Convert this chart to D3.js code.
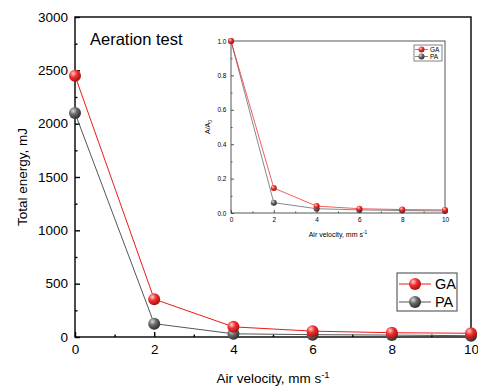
<!DOCTYPE html>
<html><head><meta charset="utf-8">
<script src="https://cdn.jsdelivr.net/npm/d3@7"></script>
<style>body{margin:0;background:#fff}svg{display:block;font-family:"Liberation Sans",Arial,sans-serif}</style>
</head><body><svg id="c" width="498" height="390"></svg>
<script>
const velocity = [0, 2, 4, 6, 8, 10];
const gaEnergy = [2450, 355, 95, 55, 40, 35];
const paEnergy = [2100, 125, 30, 22, 18, 12];
const gaRatio = [1.0, 0.145, 0.04, 0.025, 0.02, 0.018];
const paRatio = [1.0, 0.06, 0.025, 0.018, 0.014, 0.012];
const mainYTicks = [0, 500, 1000, 1500, 2000, 2500, 3000];
const xTicks = [0, 2, 4, 6, 8, 10];
const insetYTicks = [0, 0.2, 0.4, 0.6, 0.8, 1.0];
const seriesNames = ["GA", "PA"];

const svg = d3.select("#c");
const defs = svg.append("defs");
function grad(id, c0, c1, c2) {
  const g = defs.append("radialGradient").attr("id", id).attr("cx", "0.35").attr("cy", "0.32").attr("r", "0.7");
  g.append("stop").attr("offset", "0").attr("stop-color", c0);
  g.append("stop").attr("offset", "0.45").attr("stop-color", c1);
  g.append("stop").attr("offset", "1").attr("stop-color", c2);
}
grad("gRed", "#ffd0d0", "#f03030", "#a81010");
grad("gGray", "#d8d8d8", "#6a6a6a", "#2e2e2e");
const colors = {GA: {line: "#f01818", fill: "url(#gRed)"}, PA: {line: "#555", fill: "url(#gGray)"}};

function panel(opt) {
  const x = d3.scaleLinear().domain([0, 10]).range([opt.l, opt.r]);
  const y = d3.scaleLinear().domain(opt.ydom).range([opt.b, opt.t]);
  const g = svg.append("g");
  g.append("rect").attr("x", opt.l).attr("y", opt.t).attr("width", opt.r - opt.l).attr("height", opt.b - opt.t)
    .attr("fill", "none").attr("stroke", opt.frame).attr("stroke-width", opt.sw);
  const xa = g.append("g").attr("transform", `translate(0,${opt.b})`)
    .call(d3.axisBottom(x).tickValues(xTicks).tickSizeInner(-opt.tk).tickSizeOuter(0).tickPadding(opt.pad + opt.tk).tickFormat(d3.format("d")));
  xa.select(".domain").remove();
  xa.selectAll("line").attr("stroke-width", opt.sw).attr("stroke", opt.frame);
  xa.selectAll("text").attr("font-size", opt.fs).attr("fill", "#000").attr("font-family", "Liberation Sans, Arial, sans-serif");
  const xm = g.append("g").attr("transform", `translate(0,${opt.b})`)
    .call(d3.axisBottom(x).tickValues([1, 3, 5, 7, 9]).tickSizeInner(-opt.tk / 2).tickSizeOuter(0).tickFormat(""));
  xm.select(".domain").remove();
  xm.selectAll("line").attr("stroke-width", opt.sw).attr("stroke", opt.frame);
  const ya = g.append("g").attr("transform", `translate(${opt.l},0)`)
    .call(d3.axisLeft(y).tickValues(opt.yticks).tickSizeInner(-opt.tk).tickSizeOuter(0).tickPadding(opt.pad + opt.tk).tickFormat(opt.yfmt));
  ya.select(".domain").remove();
  ya.selectAll("line").attr("stroke-width", opt.sw).attr("stroke", opt.frame);
  ya.selectAll("text").attr("font-size", opt.fs).attr("fill", "#000").attr("font-family", "Liberation Sans, Arial, sans-serif");
  const ym = g.append("g").attr("transform", `translate(${opt.l},0)`)
    .call(d3.axisLeft(y).tickValues(opt.yminor).tickSizeInner(-opt.tk / 2).tickSizeOuter(0).tickFormat(""));
  ym.select(".domain").remove();
  ym.selectAll("line").attr("stroke-width", opt.sw).attr("stroke", opt.frame);
  const data = {GA: opt.ga, PA: opt.pa};
  const line = d3.line().x((d, i) => x(velocity[i])).y(d => y(d));
  ["PA", "GA"].forEach(k => {
    g.append("path").attr("d", line(data[k])).attr("fill", "none").attr("stroke", colors[k].line).attr("stroke-width", opt.lw);
  });
  ["PA", "GA"].forEach(k => {
    g.selectAll(null).data(data[k]).enter().append("circle")
      .attr("cx", (d, i) => x(velocity[i])).attr("cy", d => y(d)).attr("r", opt.mr).attr("fill", colors[k].fill);
  });
  const L = opt.leg;
  g.append("rect").attr("x", L.x).attr("y", L.y).attr("width", L.w).attr("height", L.h)
    .attr("fill", "#fff").attr("stroke", "#555").attr("stroke-width", opt.sw * 0.8);
  seriesNames.forEach((k, i) => {
    const yy = L.y + L.row0 + i * L.dy;
    g.append("line").attr("x1", L.x + L.lx0).attr("x2", L.x + L.lx1).attr("y1", yy).attr("y2", yy).attr("stroke", colors[k].line).attr("stroke-width", opt.lw);
    g.append("circle").attr("cx", L.x + (L.lx0 + L.lx1) / 2).attr("cy", yy).attr("r", opt.mr).attr("fill", colors[k].fill);
    g.append("text").attr("x", L.x + L.tx).attr("y", yy).attr("dy", "0.36em").attr("font-size", L.fs).text(k);
  });
  const xt = g.append("text").attr("x", (opt.l + opt.r) / 2).attr("y", opt.xty).attr("text-anchor", "middle").attr("font-size", opt.tfs);
  xt.append("tspan").text("Air velocity, mm s");
  xt.append("tspan").attr("font-size", opt.tfs * 0.7).attr("dy", -opt.tfs * 0.4).text("-1");
  const yt = g.append("text").attr("transform", `translate(${opt.ytx},${(opt.t + opt.b) / 2}) rotate(-90)`).attr("text-anchor", "middle").attr("font-size", opt.tfs);
  if (opt.ysub) {
    yt.append("tspan").text("A/A");
    yt.append("tspan").attr("font-size", opt.tfs * 0.7).attr("dy", opt.tfs * 0.3).text("0");
  } else yt.text(opt.ytitle);
  return g;
}

panel({l: 75, r: 471, t: 17, b: 337, ydom: [0, 3000], yticks: mainYTicks, yminor: [250, 750, 1250, 1750, 2250, 2750],
  yfmt: d3.format("d"), tk: 5, pad: 2, sw: 1.4, fs: 13.5, tfs: 13.5, lw: 1, mr: 6, frame: "#000",
  ga: gaEnergy, pa: paEnergy, xty: 383, ytx: 27, ytitle: "Total energy, mJ",
  leg: {x: 397, y: 273, w: 60, h: 38, row0: 11, dy: 18, lx0: 2, lx1: 34, tx: 38, fs: 14.5}});

panel({l: 231, r: 445, t: 41, b: 213, ydom: [0, 1], yticks: insetYTicks, yminor: [0.1, 0.3, 0.5, 0.7, 0.9],
  yfmt: d3.format(".1f"), tk: 3, pad: 1.5, sw: 0.9, fs: 6.5, tfs: 7, lw: 0.7, mr: 3, frame: "#444",
  ga: gaRatio, pa: paRatio, xty: 237, ytx: 210, ysub: true,
  leg: {x: 414, y: 45, w: 28, h: 16, row0: 4.5, dy: 7, lx0: 1, lx1: 14, tx: 16, fs: 6.5}});

svg.append("text").attr("x", 90).attr("y", 45).attr("font-size", 16.5).text("Aeration test");
// the reference picture is cropped just right of the plot frame
svg.append("rect").attr("x", 478).attr("y", 0).attr("width", 20).attr("height", 390).attr("fill", "#fff");
</script></body></html>
